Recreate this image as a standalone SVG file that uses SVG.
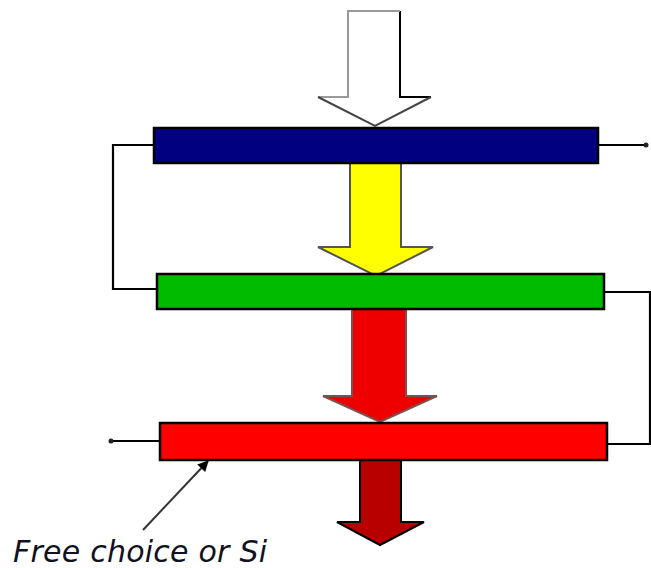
<svg xmlns="http://www.w3.org/2000/svg" width="651" height="568" viewBox="0 0 651 568">
<style>
.bar{stroke:#000;stroke-width:2.5}
.wire{fill:none;stroke:#000;stroke-width:2.2}
.dot{fill:#222}
.lbl{font-family:"DejaVu Sans",sans-serif;font-style:italic;font-size:30px;fill:#111122}
</style>
<defs>
<marker id="ah" viewBox="0 0 10 10" refX="9" refY="5" markerWidth="13" markerHeight="11" orient="auto" markerUnits="userSpaceOnUse">
<path d="M0,0 L10,5 L0,10 z" fill="#000"/>
</marker>
</defs>
<rect width="651" height="568" fill="#fff"/>
<g id="connectors">
<polyline class="wire" points="154,145 113,145 113,289 157,289"/>
<polyline class="wire" points="604,292 650,292 650,444 607,444"/>
<line class="wire" x1="598" y1="145" x2="646" y2="145"/>
<circle class="dot" cx="646" cy="145" r="2.5"/>
<line class="wire" x1="111" y1="441" x2="160" y2="441"/>
<circle class="dot" cx="111" cy="441" r="2.5"/>
<line x1="143" y1="530" x2="208" y2="461" stroke="#333" stroke-width="2" marker-end="url(#ah)"/>
</g>
<g id="arrow-input">
<polygon points="348,11 400,11 400,97 431,97 375,126 318,97 348,97" fill="#fff"/>
<polyline points="400,11 400,97 431,97" fill="none" stroke="#000" stroke-width="2"/>
<polyline points="318,97 348,97 348,11 400,11" fill="none" stroke="#999" stroke-width="2"/>
<polyline points="318,97 375,126 431,97" fill="none" stroke="#444" stroke-width="2"/>
</g>
<g id="arrow-yellow">
<polygon points="350,163 401,163 401,247 433,247 376,276 318,247 350,247" fill="#ffff00" stroke="#555" stroke-width="2"/>
</g>
<g id="arrow-red">
<polygon points="352,309 406,309 406,396 437,396 380,422 323,396 352,396" fill="#ee0000" stroke="#7a5050" stroke-width="2"/>
</g>
<g id="arrow-darkred">
<polygon points="360,460 401,460 401,522 424,522 380,545 337,522 360,522" fill="#b80000" stroke="#000" stroke-width="2"/>
</g>
<g id="bar-blue">
<rect class="bar" x="154" y="128" width="444" height="35" fill="#000080"/>
</g>
<g id="bar-green">
<rect class="bar" x="157" y="274" width="447" height="35" fill="#00bb00"/>
</g>
<g id="bar-red">
<rect class="bar" x="160" y="423" width="447" height="37" fill="#ff0000"/>
</g>
<g id="label">
<text class="lbl" x="13" y="562" textLength="254" lengthAdjust="spacing">Free choice or Si</text>
</g>
</svg>
